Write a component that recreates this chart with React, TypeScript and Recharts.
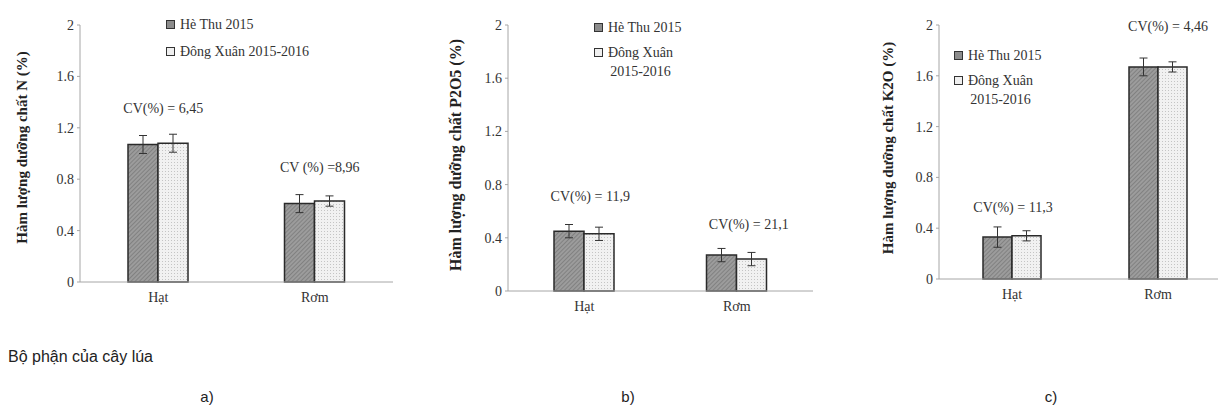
import React from "react";
import { BarChart, Bar, XAxis, YAxis, ErrorBar, Legend, ReferenceDot, Label } from "recharts";

const categories = ["Hạt", "Rơm"];
const seriesNames = ["Hè Thu 2015", "Đông Xuân 2015-2016"];
const yTicks = [0, 0.4, 0.8, 1.2, 1.6, 2];

// a) N
const nHeThu = [1.07, 0.61];
const nHeThuErr = [0.07, 0.07];
const nDongXuan = [1.08, 0.63];
const nDongXuanErr = [0.07, 0.04];
const nCv = ["CV(%) = 6,45", "CV (%) =8,96"];

// b) P2O5
const pHeThu = [0.45, 0.27];
const pHeThuErr = [0.05, 0.05];
const pDongXuan = [0.43, 0.24];
const pDongXuanErr = [0.05, 0.05];
const pCv = ["CV(%) = 11,9", "CV(%) = 21,1"];

// c) K2O
const kHeThu = [0.33, 1.67];
const kHeThuErr = [0.08, 0.07];
const kDongXuan = [0.34, 1.67];
const kDongXuanErr = [0.04, 0.04];
const kCv = ["CV(%) = 11,3", "CV(%) = 4,46"];

const SERIF = "Liberation Serif";
const SANS = "Liberation Sans";
const AXIS = "#a6a6a6";
const TEXT = "#333";

function makeRows(ht: number[], htErr: number[], dx: number[], dxErr: number[]) {
  return categories.map((name, i) => ({
    name,
    ht: ht[i],
    htErr: htErr[i],
    dx: dx[i],
    dxErr: dxErr[i],
  }));
}

function LegendBox({ wrap }: { wrap: boolean }) {
  const square = (dark: boolean) => (
    <span
      style={{
        display: "inline-block",
        width: 7,
        height: 7,
        marginTop: 5,
        marginRight: 5,
        border: "1.5px solid #333",
        background: dark ? "#8c8c8c" : "#efefef",
        flex: "none",
      }}
    />
  );
  return (
    <div style={{ fontFamily: SERIF, fontSize: 14, color: TEXT, lineHeight: "19px" }}>
      <div style={{ display: "flex", alignItems: "flex-start" }}>
        {square(true)}
        <span>{seriesNames[0]}</span>
      </div>
      <div style={{ display: "flex", alignItems: "flex-start", marginTop: wrap ? 6 : 8 }}>
        {square(false)}
        {wrap ? (
          <span style={{ textAlign: "center" }}>
            Đông Xuân
            <br />
            2015-2016
          </span>
        ) : (
          <span>{seriesNames[1]}</span>
        )}
      </div>
    </div>
  );
}

interface PanelProps {
  id: string;
  left: number;
  width: number;
  height: number;
  yAxisWidth: number;
  marginRight: number;
  marginBottom: number;
  barSize: number;
  title: string;
  titleX: number;
  titleDy: number;
  titleSize: number;
  rows: ReturnType<typeof makeRows>;
  cv: string[];
  cvY: number[];
  cvDx: number[];
  legendLeft: number;
  legendTop: number;
  wrapLegend: boolean;
}

function Panel(p: PanelProps) {
  return (
    <div style={{ position: "absolute", left: p.left, top: 0, fontFamily: SERIF }}>
      <BarChart
        width={p.width}
        height={p.height}
        data={p.rows}
        margin={{ top: 25, right: p.marginRight, left: 0, bottom: p.marginBottom }}
        barGap={0}
        barSize={p.barSize}
        style={{ fontFamily: SERIF }}
      >
        <defs>
          <pattern id={`hatch-${p.id}`} width="3" height="3" patternUnits="userSpaceOnUse" patternTransform="rotate(45)">
            <rect width="3" height="3" fill="#9c9c9c" />
            <line x1="0" y1="0" x2="0" y2="3" stroke="#727272" strokeWidth="1.3" />
          </pattern>
          <pattern id={`dots-${p.id}`} width="3" height="3" patternUnits="userSpaceOnUse">
            <rect width="3" height="3" fill="#f1f1f1" />
            <rect width="1" height="1" fill="#c4c4c4" />
          </pattern>
        </defs>
        <XAxis
          xAxisId="edge"
          type="number"
          domain={[0, 2]}
          allowDataOverflow
          ticks={[0, 1, 2]}
          tick={false}
          axisLine={false}
          tickLine={{ stroke: AXIS }}
          tickSize={5}
          height={1}
        />
        <XAxis
          dataKey="name"
          axisLine={{ stroke: AXIS }}
          tickLine={false}
          tickSize={0}
          tickMargin={10}
          height={30}
          tick={{ fill: TEXT, fontSize: 14, fontFamily: SERIF, style: { fontFamily: SERIF } }}
        />
        <YAxis
          width={p.yAxisWidth}
          domain={[0, 2]}
          ticks={yTicks}
          axisLine={{ stroke: AXIS }}
          tickLine={{ stroke: AXIS }}
          tickSize={3}
          tickMargin={3}
          tick={{ fill: TEXT, fontSize: 14, fontFamily: SERIF, style: { fontFamily: SERIF } }}
        >
          <Label
            content={(props: any) => {
              const vb = props.viewBox || {};
              const x = (vb.x || 0) + p.titleX;
              const y = (vb.y || 0) + (vb.height || 0) / 2 + p.titleDy;
              return (
                <text
                  x={x}
                  y={y}
                  transform={`rotate(-90, ${x}, ${y})`}
                  textAnchor="middle"
                  dominantBaseline="central"
                  style={{ fontFamily: SERIF }}
                  fontWeight="bold"
                  fontSize={p.titleSize}
                  fill="#222"
                >
                  {p.title}
                </text>
              );
            }}
          />
        </YAxis>
        <Legend
          layout="vertical"
          align="center"
          verticalAlign="middle"
          wrapperStyle={{ left: p.legendLeft, top: p.legendTop, width: "auto" }}
          content={() => <LegendBox wrap={p.wrapLegend} />}
        />
        <Bar
          dataKey="ht"
          name={seriesNames[0]}
          fill={`url(#hatch-${p.id})`}
          stroke="#2a2a2a"
          strokeWidth={1.5}
          isAnimationActive={false}
        >
          <ErrorBar dataKey="htErr" width={4} stroke="#333" strokeWidth={1} />
        </Bar>
        <Bar
          dataKey="dx"
          name={seriesNames[1]}
          fill={`url(#dots-${p.id})`}
          stroke="#2a2a2a"
          strokeWidth={1.5}
          isAnimationActive={false}
        >
          <ErrorBar dataKey="dxErr" width={4} stroke="#333" strokeWidth={1} />
        </Bar>
        {categories.map((c, i) => (
          <ReferenceDot
            key={c}
            x={c}
            y={p.cvY[i]}
            r={0}
            fill="none"
            stroke="none"
            label={(props: any) => {
              const vb = props.viewBox || {};
              return (
                <text
                  x={(vb.x || 0) + p.cvDx[i]}
                  y={vb.y || 0}
                  textAnchor="middle"
                  dominantBaseline="central"
                  style={{ fontFamily: SERIF }}
                  fontSize={14}
                  fill={TEXT}
                >
                  {p.cv[i]}
                </text>
              );
            }}
          />
        ))}
      </BarChart>
    </div>
  );
}

export default function App() {
  return (
    <div
      style={{
        position: "absolute",
        left: 0,
        top: 0,
        width: 1218,
        height: 408,
        overflow: "hidden",
        background: "#fff",
        fontFamily: SERIF,
      }}
    >
      <Panel
        id="n"
        left={0}
        width={400}
        height={320}
        yAxisWidth={80}
        marginRight={7}
        marginBottom={7}
        barSize={30}
        title="Hàm lượng dưỡng chất N (%)"
        titleX={22}
        titleDy={-6}
        titleSize={15}
        rows={makeRows(nHeThu, nHeThuErr, nDongXuan, nDongXuanErr)}
        cv={nCv}
        cvY={[1.35, 0.89]}
        cvDx={[5, 5]}
        legendLeft={166}
        legendTop={15}
        wrapLegend={false}
      />
      <Panel
        id="p"
        left={400}
        width={420}
        height={330}
        yAxisWidth={108}
        marginRight={7}
        marginBottom={8}
        barSize={30}
        title="Hàm lượng dưỡng chất P2O5 (%)"
        titleX={55}
        titleDy={-3}
        titleSize={16}
        rows={makeRows(pHeThu, pHeThuErr, pDongXuan, pDongXuanErr)}
        cv={pCv}
        cvY={[0.71, 0.5]}
        cvDx={[6, 12]}
        legendLeft={194}
        legendTop={18}
        wrapLegend={true}
      />
      <Panel
        id="k"
        left={820}
        width={420}
        height={320}
        yAxisWidth={119}
        marginRight={9}
        marginBottom={10}
        barSize={29}
        title="Hàm lượng dưỡng chất K2O (%)"
        titleX={68}
        titleDy={-4}
        titleSize={15}
        rows={makeRows(kHeThu, kHeThuErr, kDongXuan, kDongXuanErr)}
        cv={kCv}
        cvY={[0.56, 1.99]}
        cvDx={[1, 10]}
        legendLeft={134}
        legendTop={46}
        wrapLegend={true}
      />
      <div style={{ position: "absolute", left: 8, top: 348, fontFamily: SANS, fontSize: 16, color: "#222" }}>
        Bộ phận của cây lúa
      </div>
      {["a)", "b)", "c)"].map((t, i) => (
        <div
          key={t}
          style={{
            position: "absolute",
            left: [207, 628, 1051][i],
            top: 388,
            transform: "translateX(-50%)",
            fontFamily: SANS,
            fontSize: 15,
            color: "#222",
          }}
        >
          {t}
        </div>
      ))}
    </div>
  );
}
